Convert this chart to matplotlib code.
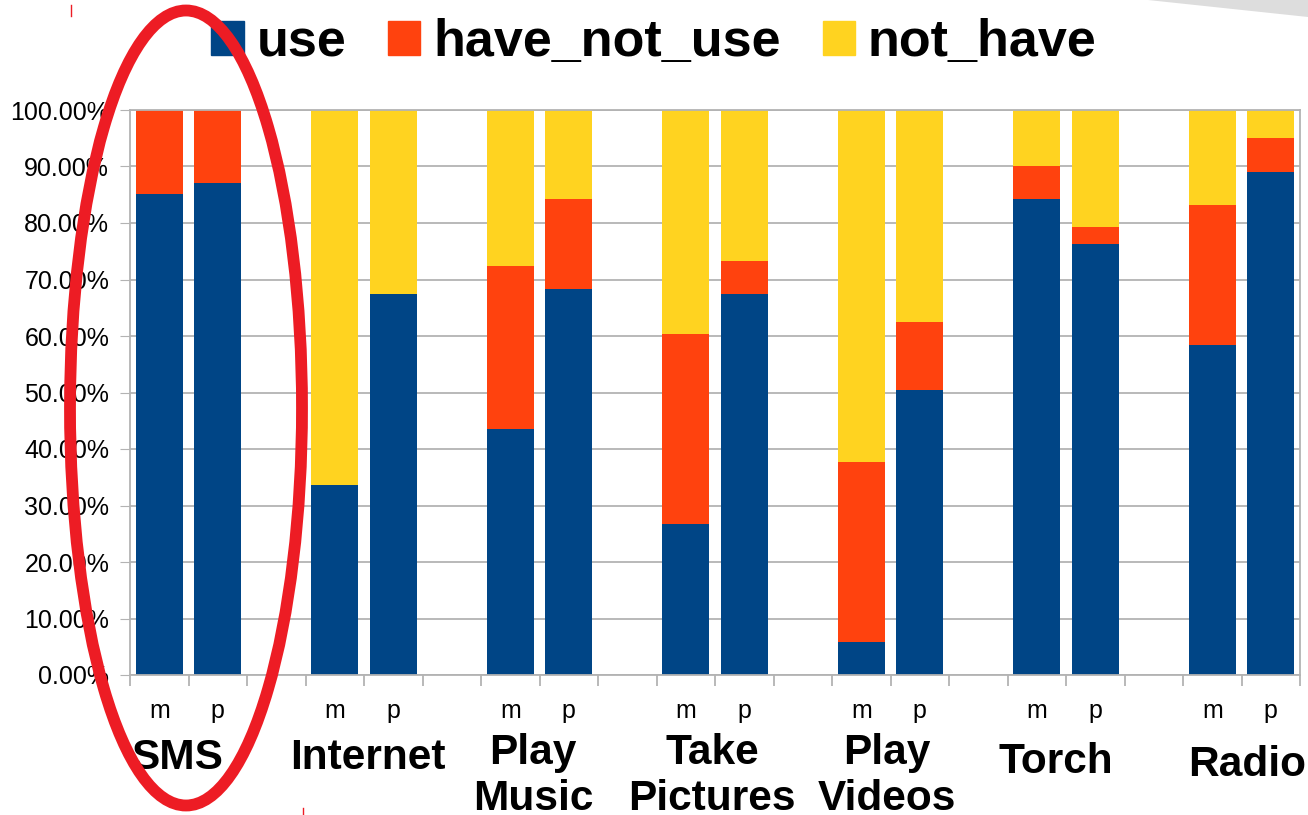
import matplotlib.pyplot as plt
import matplotlib.patches as mpatches
import numpy as np

plt.rcParams['font.family'] = ['Liberation Sans', 'DejaVu Sans']

# =====================
# DATA (percent)
# =====================
categories = ["SMS", "Internet", "Play\nMusic", "Take\nPictures", "Play\nVideos", "Torch", "Radio"]
groups = ["m", "p"]
use_m = [85.1, 33.6, 43.5, 26.7, 5.8, 84.2, 58.4]
use_p = [87.1, 67.4, 68.3, 67.4, 50.4, 76.3, 89.0]
have_not_use_m = [14.9, 0.0, 28.9, 33.7, 31.9, 5.9, 24.8]
have_not_use_p = [12.9, 0.0, 15.9, 5.9, 12.1, 3.0, 6.0]
not_have_m = [0.0, 66.4, 27.6, 39.6, 62.3, 9.9, 16.8]
not_have_p = [0.0, 32.6, 15.8, 26.7, 37.5, 20.7, 5.0]
y_ticks = [0, 10, 20, 30, 40, 50, 60, 70, 80, 90, 100]

C_USE = "#004586"
C_HNU = "#ff420e"
C_NH = "#ffd320"
C_GRID = "#b3b3b3"

# layout tweaks for the category names (pixels: x shift, top of text)
label_dx = [-10.5, 3.5, -6.5, -3, -3.5, -10, 5.5]
label_top = [738, 738, 733, 733, 733, 742, 745]

fig = plt.figure(figsize=(13.08, 8.15), dpi=100)
W, H = 1308, 815
AX_L, AX_R, AX_T, AX_B = 130, 1300, 110, 675
ax = fig.add_axes([AX_L / W, 1 - AX_B / H, (AX_R - AX_L) / W, (AX_B - AX_T) / H])

n = len(categories)
x_m = np.arange(n) * 3 + 0.5
x_p = np.arange(n) * 3 + 1.5
bw = 0.8

for xs, u, h, nh in [(x_m, use_m, have_not_use_m, not_have_m), (x_p, use_p, have_not_use_p, not_have_p)]:
    u = np.array(u)
    h = np.array(h)
    ax.bar(xs, u, bw, color=C_USE, zorder=2)
    ax.bar(xs, h, bw, bottom=u, color=C_HNU, zorder=2)
    ax.bar(xs, nh, bw, bottom=u + h, color=C_NH, zorder=2)

ax.set_xlim(0, 3 * n - 1)
ax.set_ylim(0, 100)
ax.set_yticks(y_ticks)
ax.set_yticklabels([f"{v:.2f}%" for v in y_ticks], fontsize=18)
ax.yaxis.grid(True, color=C_GRID, linewidth=1.3, zorder=0)
ax.set_axisbelow(True)
ax.tick_params(axis='y', length=7, color=C_GRID, pad=8)

# slot boundaries as major ticks, m/p labels as minor
ax.set_xticks(np.arange(0, 3 * n))
ax.set_xticklabels([])
ax.tick_params(axis='x', which='major', length=8, color=C_GRID, width=1.3)
ax.set_xticks(np.sort(np.concatenate([x_m, x_p])), minor=True)
ax.set_xticklabels(groups * n, minor=True, fontsize=18)
ax.tick_params(axis='x', which='minor', length=0, pad=17.5)

for s in ax.spines.values():
    s.set_color(C_GRID)
    s.set_linewidth(1.3)

# category names under the m/p labels
px_per_unit = (AX_R - AX_L) / (3 * n - 1)
trans = ax.get_xaxis_transform()
for i, cat in enumerate(categories):
    cx = (x_m[i] + x_p[i]) / 2 + label_dx[i] / px_per_unit
    cy = (AX_B - label_top[i]) / (AX_B - AX_T)
    ax.text(cx, cy, cat, transform=trans, ha='center', va='top',
            fontsize=30.5, fontweight='bold', linespacing=1.2, clip_on=False)

# legend
handles = [mpatches.Patch(color=C_USE, label="use"),
           mpatches.Patch(color=C_HNU, label="have_not_use"),
           mpatches.Patch(color=C_NH, label="not_have")]
fig.legend(handles=handles, loc='center', bbox_to_anchor=(0.5, 1 - 43 / H), ncol=3,
           frameon=False, prop={'weight': 'bold', 'size': 37.5},
           handlelength=0.62, handleheight=0.62, handletextpad=0.25, columnspacing=0.8)

# red ellipse highlighting SMS
fig.patches.append(mpatches.Ellipse((186 / W, 1 - 408 / H), 232 / W, 795 / H,
                                    transform=fig.transFigure, fill=False,
                                    edgecolor="#ed1c24", linewidth=8.5, zorder=10))

# decorative bits from the slide
fig.patches.append(mpatches.Polygon([(1148 / W, 1), (1, 1), (1, 1 - 17 / H)], closed=True,
                                    transform=fig.transFigure, facecolor="#dddddd",
                                    edgecolor='none'))
fig.add_artist(plt.Line2D([71 / W, 71 / W], [1 - 5 / H, 1 - 16 / H], color="#ed1c24", linewidth=1))
fig.add_artist(plt.Line2D([303 / W, 303 / W], [1 - 808 / H, 0], color="#ed1c24", linewidth=1))

fig.savefig("out.png", dpi=100)
